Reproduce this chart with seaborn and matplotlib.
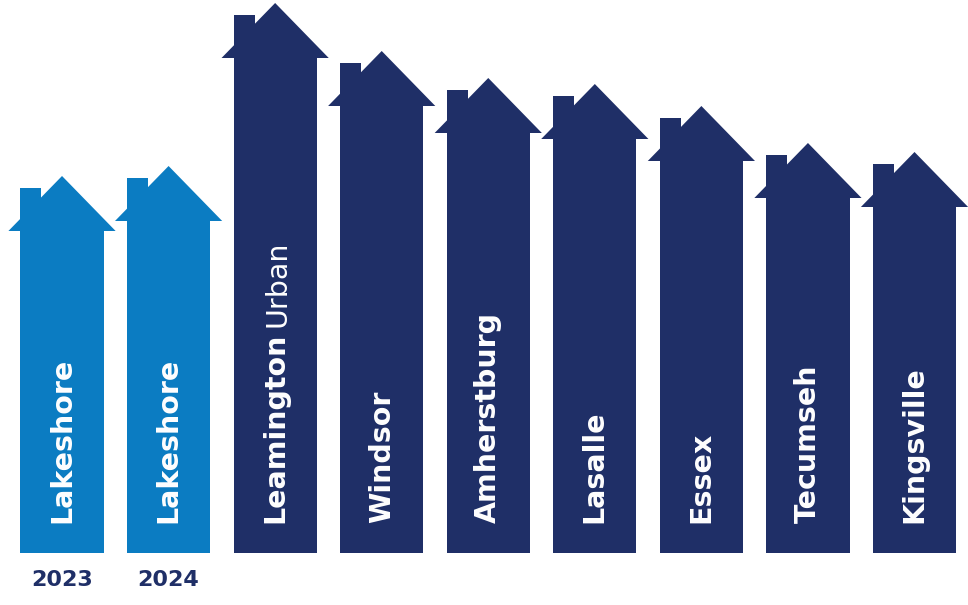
import matplotlib
matplotlib.use("Agg")
import matplotlib.pyplot as plt
import seaborn as sns
import pandas as pd
from matplotlib.patches import Polygon, Rectangle

# ---- data (body height of each house-bar) ----
places = ["Lakeshore", "Lakeshore", "Leamington", "Windsor", "Amherstburg",
          "Lasalle", "Essex", "Tecumseh", "Kingsville"]
suffix = ["", "", "Urban", "", "", "", "", "", ""]
years = ["2023", "2024", "", "", "", "", "", "", ""]
values = [322, 332, 495, 447, 420, 414, 392, 355, 346]
groups = ["Lakeshore", "Lakeshore", "Other", "Other", "Other",
          "Other", "Other", "Other", "Other"]

LIGHT = "#0B7CC2"
NAVY = "#1F2F67"

keys = [f"{p}_{i}" for i, p in enumerate(places)]
df = pd.DataFrame({"key": keys, "value": values, "group": groups})

sns.set_theme(style="white")
plt.rcParams["font.family"] = ["DejaVu Sans"]

fig = plt.figure(figsize=(9.68, 6.05), dpi=100)
ax = fig.add_axes([0, 0, 1, 1])

sns.barplot(data=df, x="key", y="value", hue="group", order=keys,
            palette={"Lakeshore": LIGHT, "Other": NAVY}, dodge=False,
            width=0.78, saturation=1, legend=False, ax=ax, linewidth=0)

ax.set_xlim(-0.582, 8.502)
ax.set_ylim(-52, 553)
ax.axis("off")

ROOF_H = 55
OVER = 0.113
CH_W = 0.197
CH_H = 43

bars = sorted([p for p in ax.patches if isinstance(p, Rectangle) and p.get_height() > 0],
              key=lambda p: p.get_x())
for p in bars:
    x0 = p.get_x()
    w = p.get_width()
    h = p.get_height()
    c = p.get_facecolor()
    cx = x0 + w / 2
    ax.add_patch(Rectangle((x0, h - 1), CH_W, CH_H + 1, facecolor=c, edgecolor="none"))
    ax.add_patch(Polygon([(x0 - OVER, h), (cx, h + ROOF_H), (x0 + w + OVER, h)],
                         closed=True, facecolor=c, edgecolor="none"))

fig.canvas.draw()
renderer = fig.canvas.get_renderer()
inv = ax.transData.inverted()
for i, p in enumerate(bars):
    cx = p.get_x() + p.get_width() / 2
    t = ax.text(cx, 30, places[i], rotation=90, ha="center", va="bottom",
                color="white", fontsize=20.5, fontweight="bold")
    if suffix[i]:
        bb = t.get_window_extent(renderer)
        ytop = inv.transform((0, bb.y1))[1]
        ax.text(cx + 0.02, ytop + 6, suffix[i], rotation=90, ha="center", va="bottom",
                color="white", fontsize=20.5, fontweight="normal")
    if years[i]:
        ax.text(cx, -27, years[i], ha="center", va="center",
                color=NAVY, fontsize=16, fontweight="bold")

fig.savefig("out.png", dpi=100)
